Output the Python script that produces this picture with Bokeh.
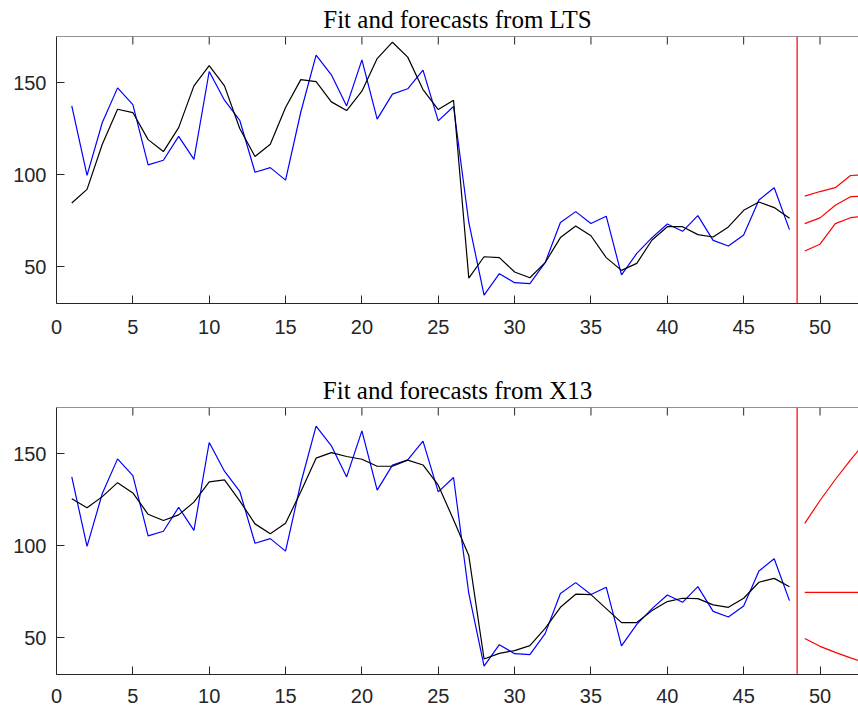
from bokeh.plotting import figure
from bokeh.layouts import column
from bokeh.models import Range1d, LinearAxis, FixedTicker, Span
from bokeh.embed import file_html
from bokeh.resources import INLINE

# ---------------- data ----------------
x_obs = list(range(1, 49))
observed = [137.3, 99.6, 128.3, 147.1, 138.0, 105.3, 107.8, 120.8, 108.3, 156.0,
            140.4, 129.5, 101.3, 103.8, 97.0, 134.0, 164.9, 154.2, 137.3, 162.3,
            130.1, 143.7, 146.6, 156.7, 129.2, 137.0, 74.0, 34.6, 46.2, 41.3,
            40.8, 52.2, 74.0, 79.9, 73.4, 77.4, 45.5, 57.2, 65.8, 73.2,
            69.2, 77.7, 64.3, 61.2, 67.2, 86.2, 92.9, 70.1]
lts_fit = [84.6, 92.0, 116.5, 135.5, 133.7, 119.0, 112.5, 125.5, 148.2, 159.2,
           148.2, 125.0, 109.8, 116.5, 136.4, 151.6, 150.5, 139.5, 134.8, 145.3,
           163.0, 171.9, 163.8, 146.2, 135.3, 140.4, 43.8, 55.4, 54.9, 47.1,
           44.0, 52.2, 65.8, 72.1, 66.8, 54.9, 48.0, 51.8, 64.5, 71.7,
           71.7, 67.4, 66.1, 71.6, 80.6, 85.1, 82.1, 76.3]
x13_fit = [125.4, 120.5, 126.6, 134.2, 128.6, 117.0, 113.6, 116.7, 123.6, 134.6,
           135.7, 124.3, 111.8, 106.5, 112.1, 129.3, 147.5, 150.5, 148.4, 146.9,
           143.1, 143.1, 146.4, 143.8, 132.8, 114.0, 94.6, 38.4, 41.5, 43.0,
           45.7, 55.1, 66.5, 73.6, 73.4, 65.8, 58.2, 58.2, 64.7, 69.6,
           71.4, 71.2, 67.8, 66.5, 71.4, 80.1, 82.2, 77.7]

x_fc = [49, 50, 51, 52, 53]
lts_upper = [88.3, 90.8, 92.9, 99.5, 99.9]
lts_mid = [73.4, 76.5, 83.4, 88.0, 88.3]
lts_lower = [58.5, 62.2, 73.4, 76.6, 77.4]
x13_upper = [112.1, 124.5, 135.9, 146.6, 156.5]
x13_mid = [74.6, 74.6, 74.6, 74.6, 74.6]
x13_lower = [49.6, 45.3, 42.0, 39.0, 36.2]

forecast_start = 48.5
x_ticks = [0, 5, 10, 15, 20, 25, 30, 35, 40, 45, 50]
y_ticks = [50, 100, 150]
titles = ["Fit and forecasts from LTS", "Fit and forecasts from X13"]

AX = "#262626"
Y0, Y1 = 30, 175
FRAME_H = 267
TICK_PX = 8


def style_axis(ax, standoff):
    ax.axis_line_color = AX
    ax.axis_line_width = 1
    ax.major_tick_line_color = AX
    ax.major_tick_in = TICK_PX
    ax.major_tick_out = 0
    ax.minor_tick_in = 0
    ax.minor_tick_out = 0
    ax.major_label_text_font = "Liberation Sans"
    ax.major_label_text_color = AX
    ax.major_label_text_font_size = "20px"
    ax.major_label_standoff = standoff


def panel(title, fit, up, mid, lo, height, btop, bbottom, xstand, tstand):
    p = figure(width=858, height=height, output_backend="svg", toolbar_location=None,
               x_range=Range1d(0, 52.52), y_range=Range1d(Y0, Y1),
               x_axis_location=None, y_axis_location=None,
               min_border_left=56, min_border_right=0,
               min_border_top=btop, min_border_bottom=bbottom)
    p.outline_line_color = None
    p.xgrid.visible = False
    p.ygrid.visible = False
    p.background_fill_color = "white"
    p.border_fill_color = "white"

    bottom = LinearAxis(ticker=FixedTicker(ticks=x_ticks))
    style_axis(bottom, xstand)
    p.add_layout(bottom, "below")
    left = LinearAxis(ticker=FixedTicker(ticks=y_ticks))
    style_axis(left, 10)
    p.add_layout(left, "left")

    # top box edge with inward ticks
    p.add_layout(Span(location=Y1, dimension="width", line_color=AX, line_width=1))
    tick_len = TICK_PX * (Y1 - Y0) / FRAME_H
    p.segment(x0=x_ticks, y0=[Y1] * len(x_ticks), x1=x_ticks,
              y1=[Y1 - tick_len] * len(x_ticks), line_color=AX, line_width=1)

    p.title.text = title
    p.title.align = "center"
    p.title.text_font = "Liberation Serif"
    p.title.text_font_style = "normal"
    p.title.text_font_size = "25px"
    p.title.text_color = "black"
    p.title.standoff = tstand

    p.line(x_obs, observed, line_color="#0000FF", line_width=1.2)
    p.line(x_obs, fit, line_color="black", line_width=1.2)
    p.line(x_fc, up, line_color="#FF0000", line_width=1.2)
    p.line(x_fc, mid, line_color="#FF0000", line_width=1.2)
    p.line(x_fc, lo, line_color="#FF0000", line_width=1.2)
    p.add_layout(Span(location=forecast_start, dimension="height",
                      line_color="#FF0000", line_width=1.2))
    return p


p1 = panel(titles[0], lts_fit, lts_upper, lts_mid, lts_lower, 355, 36, 52, 16, 7)
p2 = panel(titles[1], x13_fit, x13_upper, x13_mid, x13_lower, 356, 52, 37, 14, 7)
layout = column(p1, p2, spacing=0)

open("out.html", "w").write(file_html(layout, INLINE))
